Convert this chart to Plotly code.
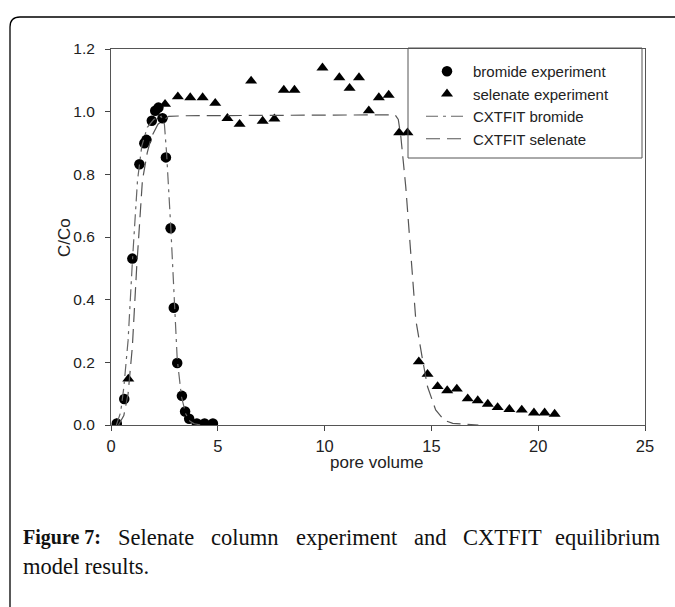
import plotly.graph_objects as go

# ---------------- data ----------------
bromide_x = [0.27, 0.62, 1.0, 1.33, 1.56, 1.66, 1.91, 2.07, 2.22, 2.41, 2.57, 2.79,
             2.94, 3.1, 3.32, 3.47, 3.66, 4.02, 4.38, 4.77]
bromide_y = [0.005, 0.083, 0.531, 0.832, 0.899, 0.91, 0.971, 1.003, 1.013, 0.979, 0.854,
             0.628, 0.374, 0.198, 0.093, 0.043, 0.02, 0.005, 0.005, 0.005]

selenate_x = [0.27, 0.81, 2.53, 3.13, 3.71, 4.29, 4.88, 5.45, 6.02, 6.56, 7.1, 7.65,
              8.09, 8.59, 9.9, 10.69, 11.17, 11.61, 12.07, 12.54, 13.0, 13.49, 13.88,
              14.41, 14.82, 15.29, 15.74, 16.19, 16.7, 17.17, 17.64, 18.1, 18.65,
              19.23, 19.8, 20.3, 20.77]
selenate_y = [0.005, 0.147, 1.024, 1.048, 1.045, 1.045, 1.027, 0.979, 0.96, 1.098,
              0.97, 0.977, 1.069, 1.069, 1.14, 1.109, 1.075, 1.109, 1.003, 1.045,
              1.053, 0.933, 0.933, 0.202, 0.162, 0.123, 0.11, 0.115, 0.084, 0.078,
              0.067, 0.056, 0.05, 0.048, 0.039, 0.039, 0.035]

fit_bromide_x = [0.25, 0.45, 0.6, 0.8, 1.0, 1.24, 1.44, 1.7, 2.0, 2.35, 2.5, 2.6, 2.8,
                 2.95, 3.1, 3.3, 3.5, 3.7, 3.9, 4.2]
fit_bromide_y = [0.0, 0.04, 0.12, 0.27, 0.52, 0.78, 0.89, 0.95, 0.975, 0.985, 0.96, 0.87,
                 0.63, 0.4, 0.21, 0.09, 0.035, 0.012, 0.004, 0.0]

fit_selenate_x = [0.35, 0.6, 0.8, 1.0, 1.2, 1.47, 1.7, 1.9, 2.2, 2.7, 3.5, 6.0, 10.0,
                  13.3, 13.45, 13.57, 13.8, 14.04, 14.27, 14.59, 14.82, 15.2, 15.6,
                  16.0, 16.5, 17.2]
fit_selenate_y = [0.0, 0.03, 0.1, 0.25, 0.5, 0.78, 0.87, 0.92, 0.96, 0.985, 0.987, 0.988,
                  0.989, 0.99, 0.975, 0.92, 0.76, 0.548, 0.335, 0.207, 0.122, 0.048,
                  0.015, 0.005, 0.002, 0.0]

x_ticks = [0, 5, 10, 15, 20, 25]
y_ticks = [0.0, 0.2, 0.4, 0.6, 0.8, 1.0, 1.2]

legend_names = ["bromide experiment", "selenate experiment", "CXTFIT bromide", "CXTFIT selenate"]
x_title = "pore volume"
y_title = "C/Co"
caption_words = ["<b>Figure 7:</b>", "Selenate", "column", "experiment", "and", "CXTFIT", "equilibrium"]
caption_line2 = "model results."

# ---------------- layout helpers ----------------
W, H = 675, 607
L, R, T, B = 111, 30, 49, 182
PW, PH = W - L - R, H - T - B


def px(xp):
    return (xp - L) / PW


def py(yp):
    return (H - B - yp) / PH


fig = go.Figure()

fig.add_trace(go.Scatter(x=bromide_x, y=bromide_y, mode="markers", name=legend_names[0],
                         marker=dict(symbol="circle", size=10.5, color="#000000")))
fig.add_trace(go.Scatter(x=selenate_x, y=selenate_y, mode="markers", name=legend_names[1],
                         marker=dict(symbol="triangle-up", size=10.5, color="#000000")))
fig.add_trace(go.Scatter(x=fit_bromide_x, y=fit_bromide_y, mode="lines", name=legend_names[2],
                         line=dict(color="#666666", width=1.2, dash="12px,5px,3px,5px")))
fig.add_trace(go.Scatter(x=fit_selenate_x, y=fit_selenate_y, mode="lines", name=legend_names[3],
                         line=dict(color="#555555", width=1.2, dash="14px,7px")))

sans = "Arial, Liberation Sans, sans-serif"
tick_font = dict(family=sans, size=15.5, color="#222222")
title_font = dict(family=sans, size=17, color="#222222")

fig.update_layout(
    width=W, height=H,
    margin=dict(l=L, r=R, t=T, b=B),
    paper_bgcolor="white", plot_bgcolor="white",
    showlegend=True,
    legend=dict(x=px(421), y=py(55), xanchor="left", yanchor="top",
                bgcolor="rgba(0,0,0,0)", borderwidth=0,
                font=dict(family=sans, size=15, color="#222222"),
                itemwidth=42, tracegroupgap=0),
    xaxis=dict(range=[0, 25], tickvals=x_ticks, ticks="outside", ticklen=5,
               tickcolor="#444444", showline=True, mirror=True, linecolor="#555555",
               linewidth=1, showgrid=False, zeroline=False,
               tickfont=dict(family=sans, size=16.5, color="#222222"),
               ticklabelstandoff=1),
    yaxis=dict(range=[0, 1.2], tickvals=y_ticks, tickformat=".1f", ticks="outside",
               ticklen=5, tickcolor="#444444", showline=True, mirror=True,
               linecolor="#555555", linewidth=1, showgrid=False, zeroline=False,
               tickfont=tick_font, ticklabelstandoff=7),
)

# legend box
fig.add_shape(type="rect", xref="paper", yref="paper", x0=px(408), x1=px(642),
              y0=py(158), y1=py(48), line=dict(color="#555555", width=1))

# outer rounded frame
r = 10
path = (f"M {px(10)},{py(620)} L {px(10)},{py(17 + r)} "
        f"Q {px(10)},{py(17)} {px(10 + r)},{py(17)} L {px(690)},{py(17)}")
fig.add_shape(type="path", xref="paper", yref="paper", path=path,
              line=dict(color="#000000", width=1.3))

# axis titles
fig.add_annotation(text=y_title, xref="paper", yref="paper", x=px(64), y=py(237),
                   showarrow=False, textangle=-90, font=title_font,
                   xanchor="center", yanchor="middle")
fig.add_annotation(text=x_title, xref="paper", yref="paper", x=px(377), y=py(463),
                   showarrow=False, font=title_font, xanchor="center", yanchor="middle")

# caption (justified line 1 via word positions)
serif = "Liberation Serif, Times New Roman, serif"
cap_font = dict(family=serif, size=22.5, color="#111111")
word_left = [21, 116, 209, 294, 412, 461, 662]
for i, (w, xl) in enumerate(zip(caption_words, word_left)):
    f = dict(cap_font, size=20) if i == 0 else cap_font
    fig.add_annotation(text=w, xref="paper", yref="paper", x=px(xl), y=py(537),
                       xanchor="right" if i == len(caption_words) - 1 else "left",
                       yanchor="middle", showarrow=False, font=f)
fig.add_annotation(text=caption_line2, xref="paper", yref="paper", x=px(21), y=py(566),
                   xanchor="left", yanchor="middle", showarrow=False, font=cap_font)

fig.write_html("out.html")
